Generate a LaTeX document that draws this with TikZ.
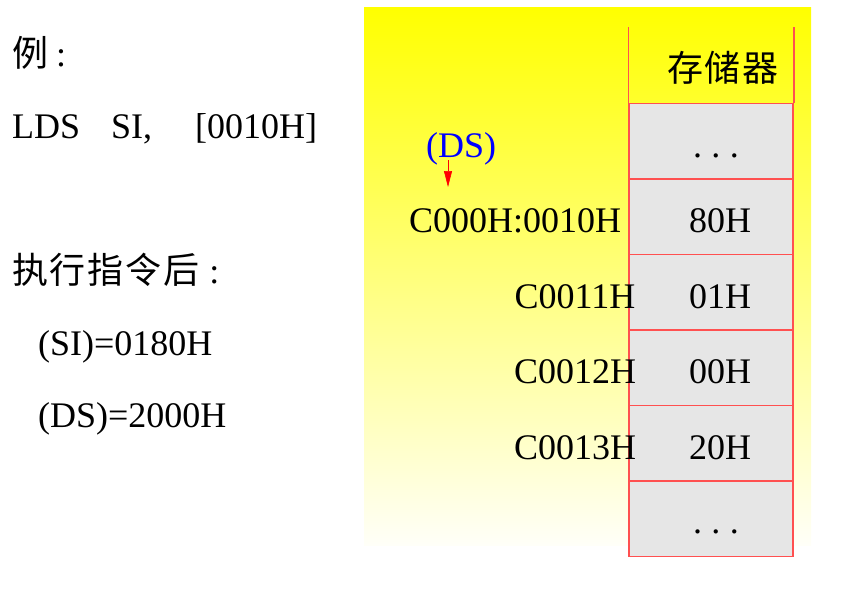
\documentclass[tikz,border=0pt]{standalone}
\usepackage{fontspec}
\setmainfont{Liberation Serif}
\newfontfamily\cjk[LetterSpace=5]{Noto Sans CJK SC}
\usetikzlibrary{arrows.meta}
\definecolor{cellred}{RGB}{255,80,80}
\definecolor{cellgray}{RGB}{230,230,230}
\definecolor{fadeend}{RGB}{255,255,248}
\definecolor{dsblue}{RGB}{0,0,255}
\tikzset{
  txt/.style={inner sep=0pt, anchor=base west, font=\fontsize{36}{43}\selectfont},
  ctxt/.style={inner sep=0pt, anchor=base, font=\fontsize{36}{43}\selectfont},
  cell/.style={draw=cellred, line width=1.5pt, fill=cellgray, minimum width=164pt, minimum height=75.5pt, inner sep=0pt},
  memline/.style={draw=cellred, line width=1.5pt},
  dsarrow/.style={draw=red, line width=0.6pt, -{Triangle[width=8pt,length=16pt]}}
}
\begin{document}
\begin{tikzpicture}[x=1pt,y=-1pt]
\useasboundingbox (0,0) rectangle (842,597);
% gradient background
\shade[top color=yellow, bottom color=fadeend] (364,7) rectangle (811,545);
% left texts
\node[txt] (ex) at (12,66) {{\cjk 例}\hspace{8pt}:};
\node[txt] (instr) at (12,138) {LDS\hspace{31pt}SI,\hspace{43pt}[0010H]};
\node[txt] (after) at (12,283) {{\cjk 执行指令后}\hspace{10pt}:};
\node[txt] (si) at (38,355) {(SI)=0180H};
\node[txt] (ds) at (38,427) {(DS)=2000H};
% memory column
\node[cell] (m0) at (711,141) {};
\node[cell] (m1) at (711,216.5) {};
\node[cell] (m2) at (711,292) {};
\node[cell] (m3) at (711,367.5) {};
\node[cell] (m4) at (711,443) {};
\node[cell] (m5) at (711,518.5) {};
\draw[memline] (m0.north west) -- ++(0,-76);
\draw[memline] (m0.north east) -- ++(0,-76);
\node[ctxt] (hdr) at (723,81) {\cjk 存储器};
% cell values
\node[ctxt] (d0) at (716,157) {.\hspace{9.5pt}.\hspace{9.5pt}.};
\node[ctxt] (v1) at (720,232) {80H};
\node[ctxt] (v2) at (720,308) {01H};
\node[ctxt] (v3) at (720,383.5) {00H};
\node[ctxt] (v4) at (720,459) {20H};
\node[ctxt] (d5) at (716,533) {.\hspace{9.5pt}.\hspace{9.5pt}.};
% addresses
\node[ctxt] (a0) at (515,232) {C000H:0010H};
\node[ctxt] (a1) at (575,308) {C0011H};
\node[ctxt] (a2) at (575,383.5) {C0012H};
\node[ctxt] (a3) at (575,459) {C0013H};
% DS label and arrow
\node[txt, text=dsblue] (dslbl) at (426,157) {(DS)};
\coordinate (arrtop) at (448,160);
\coordinate (arrtip) at (448,187);
\draw[dsarrow] (arrtop) -- (arrtip);
\end{tikzpicture}
\end{document}
